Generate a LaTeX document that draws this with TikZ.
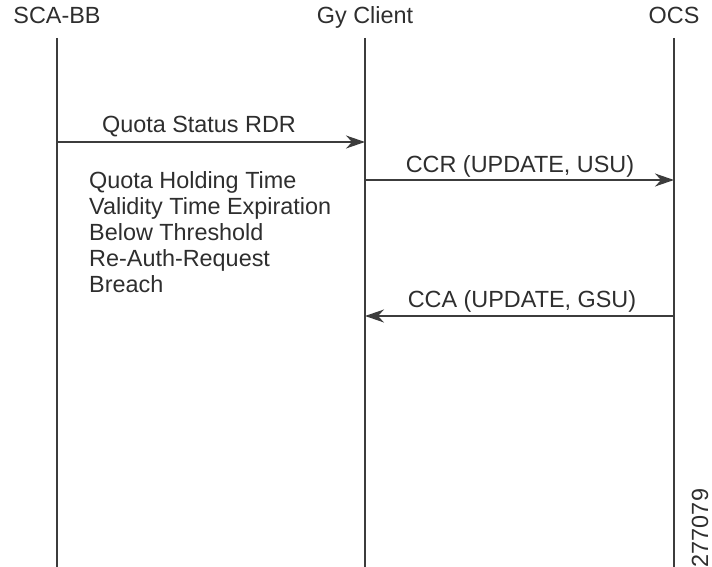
\documentclass[tikz,border=0pt]{standalone}
\usepackage{fontspec}
\setmainfont{Liberation Sans}
\usetikzlibrary{arrows.meta,positioning}
\definecolor{inkgray}{HTML}{2E2E2E}
\definecolor{linegray}{HTML}{3C3C3C}

\begin{document}
\begin{tikzpicture}[x=1pt, y=-1pt,
    every node/.style={font=\fontsize{23.4}{26.2}\selectfont, text=inkgray, inner sep=0pt},
    lifeline/.style={draw=linegray, line width=1.2pt},
    msg/.style={draw=linegray, line width=1.4pt, -{Stealth[length=19pt, width=13pt, inset=6pt]}}]

    \useasboundingbox (0,0) rectangle (712,567);

    % Lifelines with their headers
    \foreach \name/\x/\txt in {sca/57/SCA-BB, gy/365/Gy Client, ocs/674/OCS} {
        \node[anchor=base] (\name) at (\x,24) {\txt};
        \coordinate (\name top) at (\x,38);
        \coordinate (\name bot) at (\x,567);
        \draw[lifeline] (\name top) -- (\name bot);
    }

    % Quota Status RDR
    \coordinate (rdr from) at (57,142);
    \coordinate (rdr to) at (365,142);
    \draw[msg] (rdr from) -- (rdr to);
    \node[anchor=base] (rdr) at (199,133) {Quota Status RDR};

    % triggers
    \node[anchor=north west, align=left] (triggers) at (89,171) {Quota Holding Time\\Validity Time Expiration\\Below Threshold\\Re-Auth-Request\\Breach};

    % CCR
    \coordinate (ccr from) at (365,180);
    \coordinate (ccr to) at (674,180);
    \draw[msg] (ccr from) -- (ccr to);
    \node[anchor=base] (ccr) at (520,172) {CCR (UPDATE, USU)};

    % CCA
    \coordinate (cca from) at (674,316);
    \coordinate (cca to) at (365,316);
    \draw[msg] (cca from) -- (cca to);
    \node[anchor=base] (cca) at (522,307) {CCA (UPDATE, GSU)};

    % figure number
    \node[rotate=90] (fignum) at (700,528) {277079};

\end{tikzpicture}
\end{document}
